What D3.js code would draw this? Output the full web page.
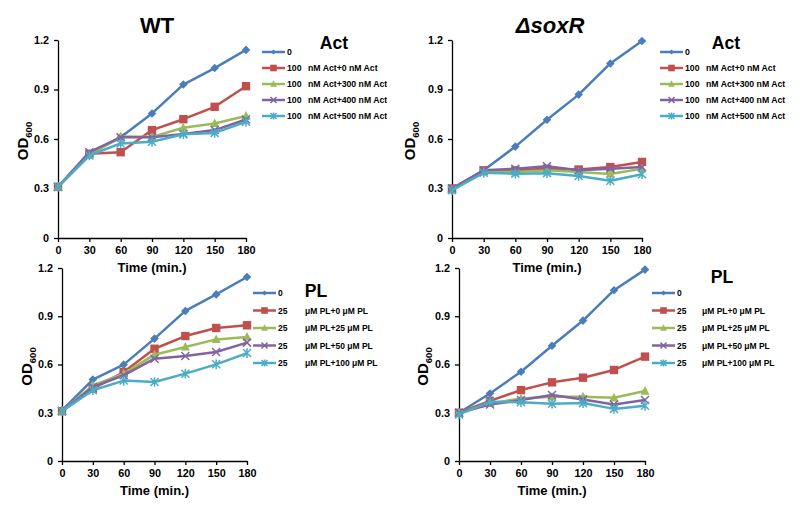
<!DOCTYPE html>
<html><head><meta charset="utf-8">
<script src="https://cdn.jsdelivr.net/npm/d3@7"></script>
<style>body{margin:0;background:#fff}svg{display:block}text{font-family:"Liberation Sans",Arial,sans-serif;font-weight:bold}</style>
</head><body><svg id="c" width="800" height="515"></svg>
<script>
const times = [0, 30, 60, 90, 120, 150, 180];
const xTicks = [0, 30, 60, 90, 120, 150, 180];
const yTicks = [0, 0.3, 0.6, 0.9, 1.2];
const colors = ["#4A7EBB", "#C0504D", "#9BBB59", "#8064A2", "#4BACC6"];
const markers = ["diamond", "square", "triangle", "cross", "asterisk"];

const actLabelsA = ["0", "100", "100", "100", "100"];
const actLabelsB = ["", "nM Act+0 nM Act", "nM Act+300 nM Act", "nM Act+400 nM Act", "nM Act+500 nM Act"];
const plLabelsA = ["0", "25", "25", "25", "25"];
const plLabelsB = ["", "\u03bcM PL+0 \u03bcM PL", "\u03bcM PL+25 \u03bcM PL", "\u03bcM PL+50 \u03bcM PL", "\u03bcM PL+100 \u03bcM PL"];

const wtAct = [
  [0.31, 0.51, 0.61, 0.755, 0.93, 1.03, 1.14],
  [0.31, 0.51, 0.52, 0.654, 0.72, 0.795, 0.92],
  [0.31, 0.50, 0.615, 0.613, 0.668, 0.694, 0.739],
  [0.31, 0.52, 0.61, 0.61, 0.63, 0.654, 0.718],
  [0.31, 0.50, 0.573, 0.583, 0.629, 0.637, 0.704]
];
const soxAct = [
  [0.29, 0.41, 0.554, 0.717, 0.869, 1.058, 1.194],
  [0.30, 0.41, 0.41, 0.42, 0.415, 0.43, 0.461],
  [0.29, 0.40, 0.40, 0.41, 0.40, 0.388, 0.42],
  [0.30, 0.41, 0.42, 0.435, 0.41, 0.42, 0.43],
  [0.29, 0.395, 0.39, 0.393, 0.376, 0.347, 0.386]
];
const wtPL = [
  [0.315, 0.506, 0.599, 0.761, 0.933, 1.036, 1.144],
  [0.31, 0.45, 0.553, 0.698, 0.777, 0.827, 0.844],
  [0.31, 0.47, 0.543, 0.661, 0.709, 0.756, 0.771],
  [0.31, 0.46, 0.533, 0.636, 0.653, 0.678, 0.736],
  [0.31, 0.44, 0.50, 0.491, 0.543, 0.601, 0.671]
];
const soxPL = [
  [0.30, 0.42, 0.555, 0.717, 0.873, 1.062, 1.19],
  [0.30, 0.374, 0.441, 0.489, 0.518, 0.566, 0.649],
  [0.30, 0.358, 0.389, 0.399, 0.40, 0.393, 0.435],
  [0.30, 0.351, 0.379, 0.41, 0.383, 0.351, 0.379],
  [0.29, 0.368, 0.365, 0.356, 0.36, 0.324, 0.343]
];

const panels = [
  {data: wtAct, la: actLabelsA, lb: actLabelsB, title: "WT", italic: false, tx: 157, ty: 33,
   lt: "Act", ltx: 334, lty: 49, legFs: 8.7,
   x0: 58, x1: 246, yTop: 40, yBot: 238, legX: 262, legY: 52, legDy: 16, lbX: 308, odX: 28},
  {data: soxAct, la: actLabelsA, lb: actLabelsB, title: "\u0394soxR", italic: true, tx: 550, ty: 33,
   lt: "Act", ltx: 726, lty: 49, legFs: 8.7,
   x0: 452, x1: 642, yTop: 40, yBot: 238, legX: 660, legY: 52, legDy: 16, lbX: 706, odX: 415},
  {data: wtPL, la: plLabelsA, lb: plLabelsB, title: null,
   lt: "PL", ltx: 316, lty: 297, legFs: 8.5,
   x0: 62, x1: 247, yTop: 268, yBot: 461, legX: 253, legY: 293, legDy: 17.5, lbX: 305, odX: 32},
  {data: soxPL, la: plLabelsA, lb: plLabelsB, title: null,
   lt: "PL", ltx: 722, lty: 283, legFs: 8.5,
   x0: 459, x1: 645, yTop: 268, yBot: 461, legX: 652, legY: 293, legDy: 17.5, lbX: 702, odX: 428}
];

const svg = d3.select("#c");

function marker(g, type, x, y, s, color) {
  if (type === "diamond") {
    g.append("path").attr("d", `M${x},${y - s}L${x + s},${y}L${x},${y + s}L${x - s},${y}Z`).attr("fill", color);
  } else if (type === "square") {
    g.append("rect").attr("x", x - s).attr("y", y - s).attr("width", 2 * s).attr("height", 2 * s).attr("fill", color);
  } else if (type === "triangle") {
    g.append("path").attr("d", `M${x},${y - s * 1.1}L${x + s},${y + s * 0.8}L${x - s},${y + s * 0.8}Z`).attr("fill", color);
  } else if (type === "cross") {
    g.append("path").attr("d", `M${x - s},${y - s}L${x + s},${y + s}M${x - s},${y + s}L${x + s},${y - s}`)
      .attr("stroke", color).attr("stroke-width", 1.5).attr("fill", "none");
  } else {
    g.append("path").attr("d", `M${x - s},${y - s}L${x + s},${y + s}M${x - s},${y + s}L${x + s},${y - s}M${x},${y - s * 1.2}L${x},${y + s * 1.2}`)
      .attr("stroke", color).attr("stroke-width", 1.5).attr("fill", "none");
  }
}
const mSize = [4.3, 4.2, 4.5, 4, 4];
const legSize = [2.5, 3.3, 3.3, 3, 3];

panels.forEach(p => {
  const x = d3.scaleLinear().domain([0, 180]).range([p.x0, p.x1]);
  const y = d3.scaleLinear().domain([0, 1.2]).range([p.yBot, p.yTop]);
  const g = svg.append("g");

  const xa = g.append("g").attr("transform", `translate(0,${p.yBot})`)
    .call(d3.axisBottom(x).tickValues(xTicks).tickSize(4).tickSizeOuter(0).tickPadding(4).tickFormat(d3.format("d")));
  const ya = g.append("g").attr("transform", `translate(${p.x0},0)`)
    .call(d3.axisLeft(y).tickValues(yTicks).tickSize(4).tickSizeOuter(0).tickPadding(5).tickFormat(d => d === 0 ? "0" : d3.format(".1f")(d)));
  [xa, ya].forEach(a => {
    a.selectAll("path,line").attr("stroke", "#000").attr("stroke-width", 1.3);
    a.selectAll("text").attr("font-size", 10.8).attr("font-weight", "bold").attr("fill", "#000")
      .attr("font-family", '"Liberation Sans",Arial,sans-serif');
  });

  g.append("text").attr("x", (p.x0 + p.x1) / 2).attr("y", p.yBot + 34).attr("text-anchor", "middle")
    .attr("font-size", 13).text("Time (min.)");

  const od = g.append("text").attr("transform", `translate(${p.odX},${(p.yTop + p.yBot) / 2 + 2}) rotate(-90)`)
    .attr("text-anchor", "middle").attr("font-size", 15);
  od.append("tspan").text("OD");
  od.append("tspan").attr("font-size", 9.5).attr("dy", 4).text("600");

  if (p.title) {
    g.append("text").attr("x", p.tx).attr("y", p.ty).attr("text-anchor", "middle")
      .attr("font-size", 22).attr("font-style", p.italic ? "italic" : "normal").text(p.title);
  }
  g.append("text").attr("x", p.ltx).attr("y", p.lty).attr("text-anchor", "middle")
    .attr("font-size", 17.6).text(p.lt);

  const line = d3.line().x((d, i) => x(times[i])).y(d => y(d));
  p.data.forEach((s, k) => {
    g.append("path").datum(s).attr("d", line).attr("fill", "none")
      .attr("stroke", colors[k]).attr("stroke-width", 2.5).attr("stroke-linejoin", "round");
    s.forEach((v, i) => marker(g, markers[k], x(times[i]), y(v), mSize[k], colors[k]));
  });

  p.data.forEach((s, k) => {
    const ly = p.legY + k * p.legDy;
    g.append("line").attr("x1", p.legX).attr("x2", p.legX + 23).attr("y1", ly).attr("y2", ly)
      .attr("stroke", colors[k]).attr("stroke-width", 2.5);
    marker(g, markers[k], p.legX + 11.5, ly, legSize[k], colors[k]);
    g.append("text").attr("x", p.legX + 25).attr("y", ly + 3.2).attr("font-size", p.legFs).text(p.la[k]);
    if (p.lb[k]) g.append("text").attr("x", p.lbX).attr("y", ly + 3.2).attr("font-size", p.legFs).text(p.lb[k]);
  });
});
</script></body></html>
